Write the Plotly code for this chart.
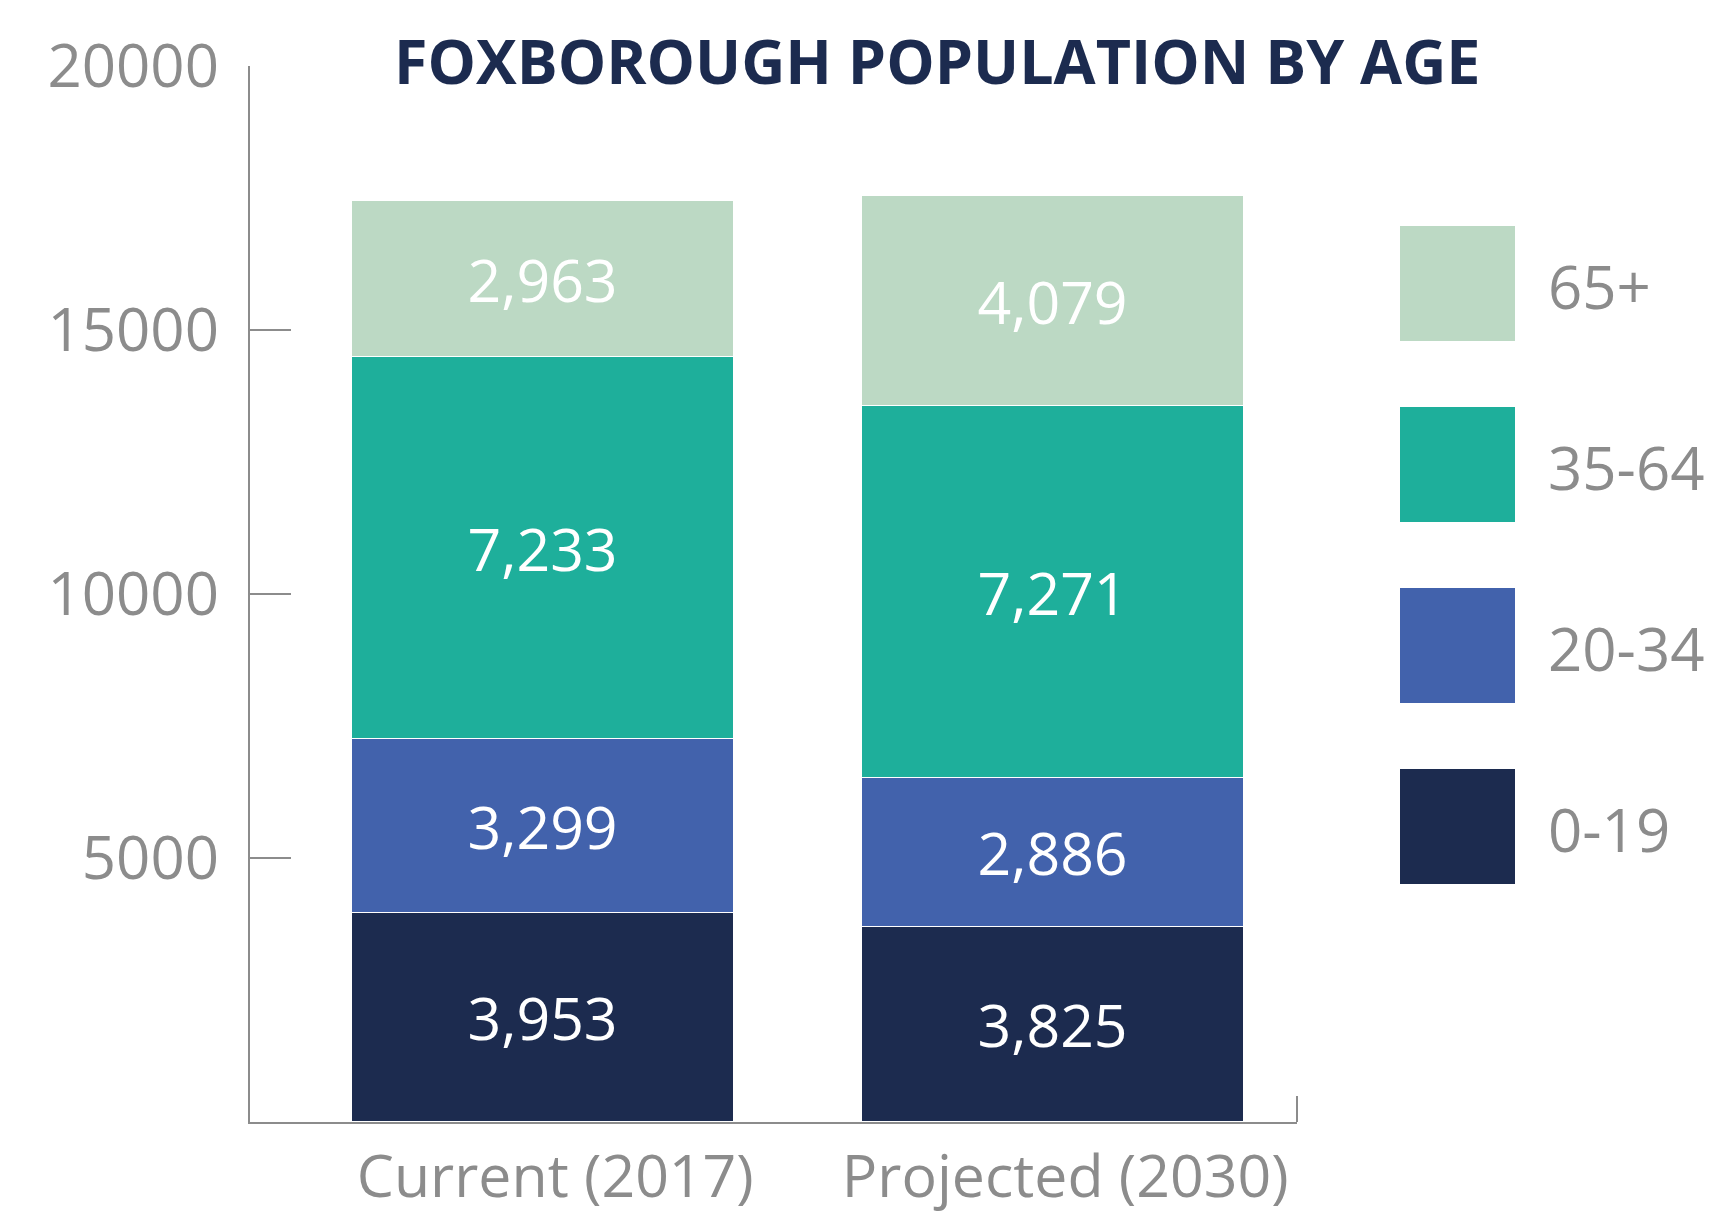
import plotly.graph_objects as go

# data
periods = ["Current (2017)", "Projected (2030)"]
age_groups = ["0-19", "20-34", "35-64", "65+"]
colors = ["#1c2b4f", "#4262ac", "#1eaf9b", "#bcd9c4"]

# bar heights as drawn (projected bar is drawn a bit shorter than its labels)
current_values = [3953, 3299, 7233, 2963]
projected_values = [3700, 2810, 7055, 3975]
current_labels = ["3,953", "3,299", "7,233", "2,963"]
projected_labels = ["3,825", "2,886", "7,271", "4,079"]

y_ticks = [5000, 10000, 15000, 20000]
y_tick_text = ["5000", "10000", "15000", "20000"]

W, H = 1729, 1214
L, R, T, B = 250, 1297, 66, 1122
GRAY = "#8c8c8c"
FONT = "Open Sans"


def px_x(x):
    return (x - L) / (R - L)


def px_y(y):
    return (B - y) / (B - T)


fig = go.Figure()

for i, grp in enumerate(age_groups):
    fig.add_trace(go.Bar(
        x=periods,
        y=[current_values[i], projected_values[i]],
        text=[current_labels[i], projected_labels[i]],
        name=grp,
        marker=dict(color=colors[i], line=dict(color="white", width=1)),
        textposition="inside",
        insidetextanchor="middle",
        textangle=0,
        textfont=dict(family=FONT, size=59, color="white"),
        width=0.75,
        showlegend=False,
        hoverinfo="skip",
    ))

# legend boxes drawn by hand (big squares)
legend_tops = [769, 588, 407, 226]
shapes = []
annotations = []
for i, grp in enumerate(age_groups):
    top = legend_tops[i]
    shapes.append(dict(
        type="rect", xref="paper", yref="paper",
        x0=px_x(1400), x1=px_x(1515), y0=px_y(top + 115), y1=px_y(top),
        fillcolor=colors[i], line=dict(width=0),
    ))
    annotations.append(dict(
        text=grp, xref="paper", yref="paper",
        x=px_x(1546), y=px_y(top + 60), xanchor="left", yanchor="middle",
        showarrow=False, font=dict(family=FONT, size=60, color=GRAY),
    ))

# small end tick on the x axis
shapes.append(dict(
    type="line", xref="paper", yref="paper",
    x0=1, x1=1, y0=0, y1=26 / (B - T),
    line=dict(color=GRAY, width=2),
))

annotations.append(dict(
    text="<b>FOXBOROUGH POPULATION BY AGE</b>", xref="paper", yref="paper",
    x=px_x(937), y=px_y(60), xanchor="center", yanchor="middle",
    showarrow=False, font=dict(family=FONT, size=61, color="#1c2b4f"),
))

fig.update_layout(
    width=W, height=H,
    barmode="stack",
    bargap=0,
    paper_bgcolor="white",
    plot_bgcolor="white",
    margin=dict(l=L, r=W - R, t=T, b=H - B, pad=0),
    shapes=shapes,
    annotations=annotations,
)

fig.update_xaxes(
    type="category",
    range=[-0.575, 1.478],
    automargin=False,
    showline=True, linecolor=GRAY, linewidth=2,
    ticks="", showgrid=False, zeroline=False,
    tickfont=dict(family=FONT, size=59, color=GRAY),
    ticklabelstandoff=2,
    ticklabelshift=12,
)

fig.update_yaxes(
    range=[0, 20000],
    automargin=False,
    tickvals=y_ticks,
    ticktext=y_tick_text,
    showline=True, linecolor=GRAY, linewidth=2,
    ticks="inside", ticklen=41, tickwidth=2, tickcolor=GRAY,
    showgrid=False, zeroline=False,
    tickfont=dict(family=FONT, size=60, color=GRAY),
    ticklabelstandoff=17,
)

# drop the default page margin so the figure fills the window
fig.write_html(
    "out.html",
    config={"displayModeBar": False},
    post_script="document.body.style.margin='0';document.body.style.overflow='hidden';",
)
